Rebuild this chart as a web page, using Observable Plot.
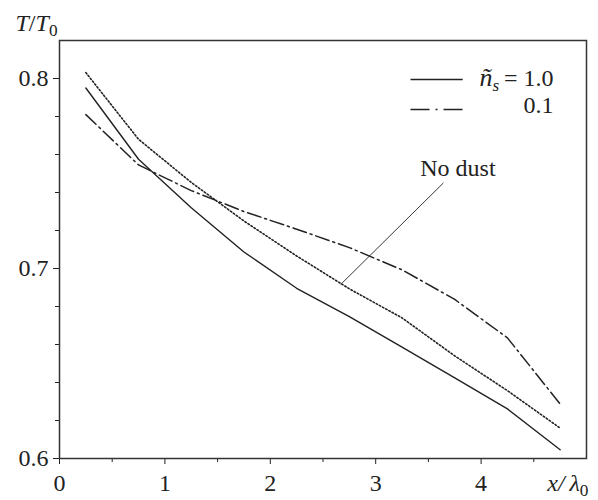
<!DOCTYPE html>
<html><head><meta charset="utf-8">
<script src="https://cdn.jsdelivr.net/npm/d3@7"></script>
<script src="https://cdn.jsdelivr.net/npm/@observablehq/plot@0.6"></script>
<style>
body{margin:0;background:#fff}
</style>
</head><body><div id="chart"></div>
<script>
// ---- data ----
const xPos = [0.25, 0.75, 1.25, 1.75, 2.25, 2.75, 3.25, 3.75, 4.25, 4.75];
const tSolid10 = [0.795, 0.7575, 0.732, 0.7087, 0.6896, 0.6747, 0.6586, 0.6424, 0.6261, 0.6046];
const tDashDot01 = [0.781, 0.7545, 0.741, 0.730, 0.7207, 0.711, 0.6993, 0.6837, 0.6635, 0.6287];
const tNoDust = [0.8031, 0.768, 0.7453, 0.725, 0.7066, 0.6893, 0.674, 0.654, 0.6357, 0.616];
const xTicks = [0, 1, 2, 3, 4];
const xMinor = [0.5, 1.5, 2.5, 3.5, 4.5];
const yTicks = [0.6, 0.7, 0.8];
const yMinor = [0.62, 0.64, 0.66, 0.68, 0.72, 0.74, 0.76, 0.78];
const seriesNames = ["1.0", "0.1", "No dust"];
const pointerX = [2.67, 3.64];
const pointerT = [0.6917, 0.7449];

const rows = (vals) => xPos.map((x, i) => ({x, T: vals[i]}));
const solidRows = rows(tSolid10), dashRows = rows(tDashDot01), dustRows = rows(tNoDust);
const pointer = pointerX.map((x, i) => ({x, T: pointerT[i]}));

const FONT = "Liberation Serif, DejaVu Serif, serif";
const FS = 24;
const INK = "#222";

const chart = Plot.plot({
  width: 598, height: 500,
  marginLeft: 59, marginRight: 12, marginTop: 40, marginBottom: 42,
  x: {domain: [0, 5]},
  y: {domain: [0.6, 0.82]},
  style: {fontFamily: FONT, fontSize: FS + "px", color: INK, background: "#fff"},
  marks: [
    Plot.axisX({ticks: xTicks, tickSize: 6, tickPadding: 9, tickFormat: d => String(d), label: null, fontSize: FS}),
    Plot.axisX({ticks: xMinor, tickSize: 4, tickFormat: () => "", label: null}),
    Plot.axisY({ticks: yTicks, tickSize: 6, tickPadding: 5, tickFormat: d => d.toFixed(1), label: null, fontSize: FS}),
    Plot.axisY({ticks: yMinor, tickSize: 4, tickFormat: () => "", label: null}),
    Plot.frame({stroke: "#333", strokeWidth: 1.5}),
    Plot.line(dustRows, {x: "x", y: "T", stroke: INK, strokeWidth: 1.6, strokeDasharray: "1.5,2.1"}),
    Plot.line(solidRows, {x: "x", y: "T", stroke: INK, strokeWidth: 1.4}),
    Plot.line(dashRows, {x: "x", y: "T", stroke: INK, strokeWidth: 1.5, strokeDasharray: "14,4,2,4"}),
    Plot.line(pointer, {x: "x", y: "T", stroke: INK, strokeWidth: 0.9}),
    Plot.text([seriesNames[2]], {x: 3.78, y: 0.7528, text: d => d, fontSize: FS, fill: INK}),
    // legend samples
    Plot.ruleY([0.7995], {x1: 3.335, x2: 3.83, stroke: INK, strokeWidth: 1.4}),
    Plot.ruleY([0.7837], {x1: 3.335, x2: 3.83, stroke: INK, strokeWidth: 1.5, strokeDasharray: "19,6,2,6"}),
    Plot.text(["LEG1"], {frameAnchor: "top-right", dx: -33, dy: 45, lineAnchor: "bottom", textAnchor: "end", text: d => d, fontSize: FS, fill: INK}),
    Plot.text([seriesNames[1]], {frameAnchor: "top-right", dx: -33, dy: 72, lineAnchor: "bottom", textAnchor: "end", text: d => d, fontSize: FS, fill: INK}),
    // axis labels
    Plot.text(["YLAB"], {frameAnchor: "top-left", dx: -44, dy: -10, lineAnchor: "bottom", textAnchor: "start", text: d => d, fontSize: FS, fill: INK}),
    Plot.text(["XLAB"], {frameAnchor: "bottom-right", dx: 2, dy: 32, lineAnchor: "bottom", textAnchor: "end", text: d => d, fontSize: FS, fill: INK})
  ]
});
document.getElementById("chart").appendChild(chart);

function rich(key, parts) {
  const t = d3.select(chart).selectAll("text").filter(function() { return this.textContent === key; });
  t.text(null);
  let shifted = false;
  for (const p of parts) {
    const s = t.append("tspan").text(p.t);
    if (p.it) s.attr("font-style", "italic");
    if (p.sz) s.attr("font-size", p.sz);
    if (p.sub) { s.attr("font-size", "0.72em").attr("dy", "0.32em"); shifted = true; }
    else if (shifted) { s.attr("dy", "-0.23em"); shifted = false; }
  }
}
rich("YLAB", [{t: "T", it: true}, {t: "/"}, {t: "T", it: true}, {t: "0", sub: true}]);
rich("XLAB", [{t: "x", it: true}, {t: "/\u2009λ", it: true}, {t: "0", sub: true}]);
rich("LEG1", [{t: "ñ", it: true, sz: "1.08em"}, {t: "s", it: true, sub: true}, {t: "\u2009= " + seriesNames[0]}]);
</script>
</body></html>
